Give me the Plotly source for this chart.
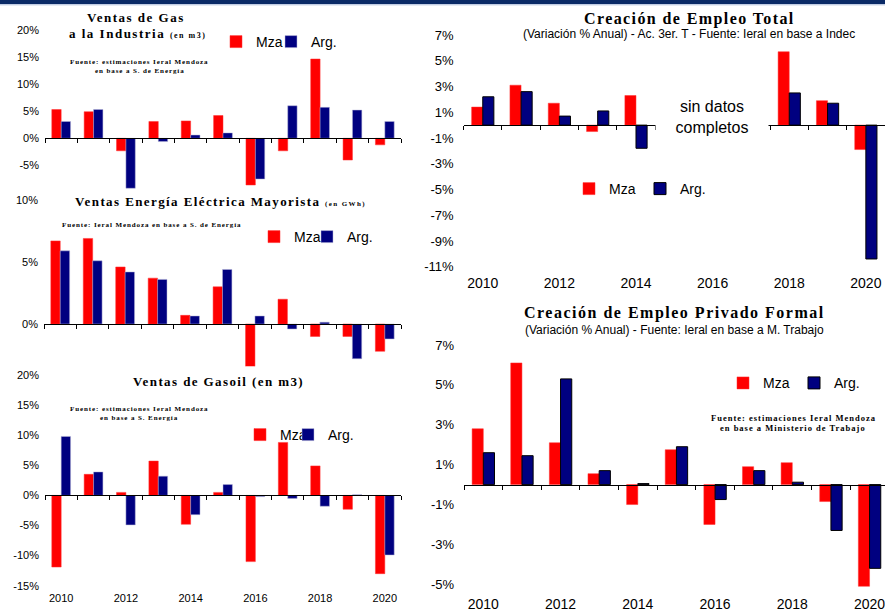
import plotly.graph_objects as go

# ---------------- data ----------------
years = [2010, 2011, 2012, 2013, 2014, 2015, 2016, 2017, 2018, 2019, 2020]
year_labels = [2010, 2012, 2014, 2016, 2018, 2020]
series_names = ["Mza", "Arg."]

gas_ind_mza = [5.3, 4.9, -2.3, 3.1, 3.2, 4.2, -8.6, -2.3, 14.6, -4.0, -1.2]
gas_ind_arg = [3.1, 5.3, -9.2, -0.6, 0.6, 1.0, -7.5, 6.0, 5.7, 5.2, 3.1]

energia_mza = [6.7, 6.9, 4.6, 3.7, 0.7, 3.0, -3.5, 2.0, -1.0, -1.0, -2.2]
energia_arg = [5.9, 5.1, 4.2, 3.6, 0.65, 4.4, 0.65, -0.4, 0.15, -2.8, -1.2]

gasoil_mza = [-11.9, 3.5, 0.5, 5.7, -4.8, 0.5, -11.0, 8.8, 4.9, -2.3, -13.0]
gasoil_arg = [9.8, 3.9, -4.9, 3.2, -3.2, 1.8, -0.2, -0.5, -1.8, 0.1, -9.9]

empleo_total_mza = [1.4, 3.1, 1.7, -0.5, 2.3, None, None, None, 5.7, 1.9, -1.9]
empleo_total_arg = [2.2, 2.6, 0.7, 1.1, -1.8, None, None, None, 2.5, 1.7, -10.4]

empleo_priv_mza = [2.8, 6.1, 2.1, 0.55, -1.0, 1.75, -2.0, 0.9, 1.1, -0.85, -5.1]
empleo_priv_arg = [1.6, 1.45, 5.3, 0.7, 0.05, 1.9, -0.75, 0.7, 0.12, -2.3, -4.2]

yticks_gas_ind = [-5, 0, 5, 10, 15, 20]
yticks_energia = [0, 5, 10]
yticks_gasoil = [-15, -10, -5, 0, 5, 10, 15, 20]
yticks_empleo_total = [-11, -9, -7, -5, -3, -1, 1, 3, 5, 7]
yticks_empleo_priv = [-5, -3, -1, 1, 3, 5, 7]

# ---------------- layout helpers ----------------
W, H = 885, 612
def fx(p):
    return p / W
def fy(p):
    return 1 - p / H

MZA_COLOR = "#FF0000"
ARG_COLOR = "#000080"
SERIF = "Liberation Serif"
SANS = "Liberation Sans"

# panel geometry (pixels) and axis settings
panels = [
    dict(mza=gas_ind_mza, arg=gas_ind_arg, left=45, right=401, top=29.7, bottom=189.9,
         yrange=[-9.5, 20], yticks=yticks_gas_ind, xlabels=False, yfont=11, xfont=11,
         ystand=5, xstand=5, xrange=[2009.5, 2020.5], right_side=False,
         leg=[(216, 42), (271, 42)]),
    dict(mza=energia_mza, arg=energia_arg, left=44, right=401, top=200, bottom=366.2,
         yrange=[-3.4, 10], yticks=yticks_energia, xlabels=False, yfont=11, xfont=11,
         ystand=5, xstand=5, xrange=[2009.5, 2020.5], right_side=False,
         leg=[(254, 237), (307, 237)]),
    dict(mza=gasoil_mza, arg=gasoil_arg, left=45, right=401, top=375, bottom=585.7,
         yrange=[-15, 20], yticks=yticks_gasoil, xlabels=True, yfont=11, xfont=11,
         ystand=5, xstand=4, xrange=[2009.5, 2020.5], right_side=False,
         leg=[(240, 435), (288, 435)]),
    dict(mza=empleo_total_mza, arg=empleo_total_arg, left=463.6, right=885, top=35, bottom=266.7,
         yrange=[-11, 7], yticks=yticks_empleo_total, xlabels=True, yfont=13, xfont=14,
         ystand=9, xstand=6, xrange=[2009.5, 2020.5], right_side=True,
         leg=[(569, 189), (640, 189)]),
    dict(mza=empleo_priv_mza, arg=empleo_priv_arg, left=464, right=885, top=345, bottom=587.3,
         yrange=[-5.15, 7], yticks=yticks_empleo_priv, xlabels=True, yfont=13, xfont=14,
         ystand=9, xstand=7, xrange=[2009.5, 2020.4], right_side=True,
         leg=[(723, 383.3), (794, 383.3)]),
]

fig = go.Figure()
layout_axes = {}
legends = {}
boundaries = [y - 0.5 for y in years] + [years[-1] + 0.5]
leg_count = 0

def legend_name(n):
    return "legend" if n == 1 else f"legend{n}"

for i, p in enumerate(panels, start=1):
    xname = "x" if i == 1 else f"x{i}"
    yname = "y" if i == 1 else f"y{i}"
    xkey = "xaxis" if i == 1 else f"xaxis{i}"
    ykey = "yaxis" if i == 1 else f"yaxis{i}"
    tick_idx = i + 5

    arg_line = dict(color="#000000", width=1) if p["right_side"] else dict(color="#B8B8D8", width=0.5)
    mza_line = dict(color="#FF3030", width=0.5)

    series = [(series_names[0], p["mza"], MZA_COLOR, mza_line),
              (series_names[1], p["arg"], ARG_COLOR, arg_line)]
    for (name, vals, color, line), (lx, ly) in zip(series, p["leg"]):
        leg_count += 1
        ln = legend_name(leg_count)
        fig.add_trace(go.Bar(x=years, y=vals, name=name, marker=dict(color=color, line=line),
                             xaxis=xname, yaxis=yname, legend=ln, showlegend=True,
                             hovertemplate=name + " %{x}: %{y}%<extra></extra>"))
        legends[ln] = dict(
            x=fx(lx), y=fy(ly), xanchor="left", yanchor="middle", orientation="h",
            font=dict(family=SANS, size=14, color="#000"), bgcolor="rgba(0,0,0,0)",
            itemwidth=30, itemclick=False, itemdoubleclick=False, borderwidth=0,
        )

    ydom = [fy(p["bottom"]), fy(p["top"])]
    ymin, ymax = p["yrange"]
    zero_pos = ydom[0] + (0 - ymin) / (ymax - ymin) * (ydom[1] - ydom[0])

    layout_axes[xkey] = dict(
        domain=[fx(p["left"]), min(1.0, fx(p["right"]))], range=p["xrange"], anchor=yname,
        tickmode="array", tickvals=year_labels, ticktext=[str(v) for v in year_labels],
        showticklabels=p["xlabels"], ticks="", showline=False, automargin=False,
        showgrid=False, zeroline=False, tickfont=dict(family=SANS, size=p["xfont"], color="#000"),
        ticklabelstandoff=p["xstand"], ticklabeloverflow="allow", fixedrange=True,
    )
    layout_axes[ykey] = dict(
        domain=ydom, range=p["yrange"], anchor=xname, tickmode="array",
        tickvals=p["yticks"], ticktext=[f"{v}%" for v in p["yticks"]],
        showgrid=False, zeroline=False, showline=False, ticks="", automargin=False,
        tickfont=dict(family=SANS, size=p["yfont"], color="#000"),
        ticklabelstandoff=p["ystand"], fixedrange=True,
    )
    # axis line drawn at the zero level with category-boundary tick marks
    layout_axes[f"xaxis{tick_idx}"] = dict(
        overlaying=xname, anchor="free", position=zero_pos, range=p["xrange"],
        tickmode="array", tickvals=boundaries, ticks="outside", ticklen=4, tickcolor="#000",
        tickwidth=1, showline=True, linecolor="#000", linewidth=1, showticklabels=False,
        showgrid=False, zeroline=False, fixedrange=True, automargin=False,
    )
    # empty helper trace so the zero-level axis is rendered
    fig.add_trace(go.Scatter(x=[], y=[], xaxis=f"x{tick_idx}", yaxis=yname,
                             showlegend=False, hoverinfo="skip"))


def ann(text, cx, cy, size, family=SERIF, bold=True, spacing=None, **kw):
    if spacing is not None:
        text = f"<span style='letter-spacing:{spacing}px'>{text}</span>"
    d = dict(text=text, x=fx(cx), y=fy(cy), xref="paper", yref="paper", xanchor="center",
             yanchor="middle", showarrow=False,
             font=dict(family=family, size=size, color="#000", weight="bold" if bold else "normal"))
    d.update(kw)
    return d

annotations = [
    # Panel 1
    ann("Ventas de Gas", 136, 17, 13, spacing=1.5),
    ann("a la Industria <span style='font-size:8px'>(en m3)</span>", 137, 33, 13, spacing=1.5),
    ann("Fuente: estimaciones Ieral Mendoza", 139, 61.7, 7, spacing=0.9),
    ann("en base a S. de Energía", 140, 71, 7, spacing=0.9),
    # Panel 2
    ann("Ventas Energía Eléctrica Mayorista <span style='font-size:7px'>(en GWh)</span>", 220, 201.7, 13, spacing=1.4),
    ann("Fuente: Ieral Mendoza en base a S. de Energía", 151.7, 225, 7, spacing=0.9),
    # Panel 3
    ann("Ventas de Gasoil (en m3)", 218, 381.7, 13, spacing=1.4),
    ann("Fuente: estimaciones Ieral Mendoza", 139, 409, 7, spacing=0.9),
    ann("en base a S. Energía", 139, 418, 7, spacing=0.9),
    # Panel 4
    ann("Creación de Empleo Total", 689, 19, 16, spacing=1.4),
    ann("(Variación % Anual) - Ac. 3er. T - Fuente: Ieral en base a Indec", 689, 34.3, 12, family=SANS, bold=False),
    ann("sin datos<br>completos", 712, 117, 16, family=SANS, bold=False,
        bgcolor="#FFFFFF", width=112, height=46, borderpad=0),
    # Panel 5
    ann("Creación de Empleo Privado Formal", 674, 313.3, 16, spacing=1.5),
    ann("(Variación % Anual) - Fuente: Ieral en base a M. Trabajo", 674, 330, 12, family=SANS, bold=False),
    ann("Fuente: estimaciones Ieral Mendoza", 793, 417.7, 8.5, spacing=1.0),
    ann("en base a Ministerio de Trabajo", 793, 428.3, 8.5, spacing=1.0),
]

shapes = [
    dict(type="rect", xref="paper", yref="paper", x0=0, x1=1, y0=fy(4), y1=1,
         fillcolor="#0A2A66", line=dict(width=0), layer="above"),
    dict(type="line", xref="paper", yref="paper", x0=0, x1=1, y0=fy(4.8), y1=fy(4.8),
         line=dict(color="#A8B8D8", width=1), layer="above"),
]

fig.update_layout(
    template="none",
    width=W, height=H, margin=dict(l=0, r=0, t=0, b=0, pad=0, autoexpand=False),
    paper_bgcolor="#FFFFFF", plot_bgcolor="rgba(0,0,0,0)",
    barmode="group", bargap=0.42, bargroupgap=0,
    font=dict(family=SANS, size=11, color="#000"),
    annotations=annotations, shapes=shapes, showlegend=True,
    **layout_axes, **legends,
)

fig.write_html("out.html", config={"displayModeBar": False},
               post_script="document.body.style.margin='0px';")
